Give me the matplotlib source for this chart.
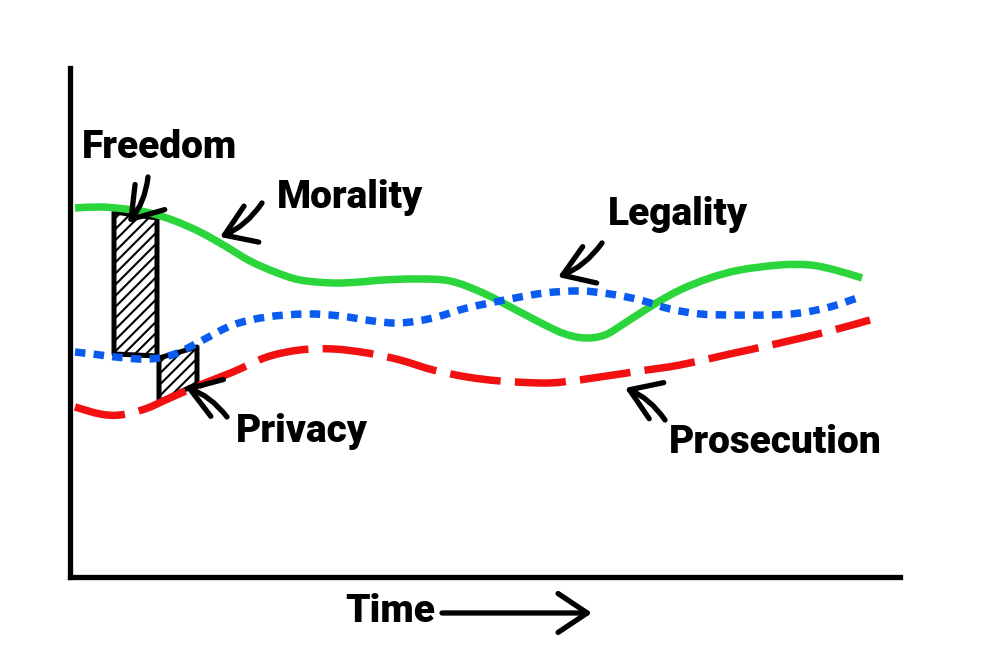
import matplotlib
matplotlib.use("Agg")
import matplotlib.pyplot as plt
from matplotlib.path import Path
from matplotlib.patches import PathPatch

plt.rcParams['font.family'] = ['Roboto', 'DejaVu Sans']
plt.rcParams['hatch.linewidth'] = 1.5

# curves (time, level)
morality_t = [5, 30, 55, 80, 105, 130, 155, 180, 205, 230, 263, 290, 313, 347, 380,
              413, 450, 475, 495, 515, 535, 555, 583, 610, 640, 670, 710, 740, 765, 792]
morality_v = [369, 370, 368, 364, 356, 345, 331, 316, 305, 297, 294, 295, 297, 298, 296,
              284, 265, 252, 243, 239, 242, 254, 272, 287, 299, 307, 312, 312, 307, 299]

legality_t = [5, 30, 55, 80, 105, 133, 163, 197, 237, 270, 303, 330, 363, 397, 440,
              475, 510, 540, 570, 600, 630, 660, 700, 730, 760, 790]
legality_v = [225, 222, 219, 218, 223, 237, 252, 260, 263, 261, 256, 254, 259, 269, 278,
              284, 286, 283, 277, 268, 263, 262, 262, 264, 270, 280]

prosecution_t = [5, 30, 50, 75, 100, 130, 163, 197, 230, 263, 297, 330, 363, 397, 430,
                 470, 493, 530, 570, 610, 660, 710, 760, 800]
prosecution_v = [170, 163, 162, 168, 179, 192, 205, 220, 227, 228, 224, 217, 207, 200, 196,
                 194, 195, 200, 206, 212, 223, 234, 246, 257]

# hatched gaps
freedom_t = [44, 87]
freedom_top = [365, 359]
freedom_bottom = [223, 221]
privacy_t = [89, 127]
privacy_top = [219, 230]
privacy_bottom = [175, 193]


def smooth(t, v):
    # catmull-rom through the points, as bezier segments
    pts = list(zip(t, v))
    verts = [pts[0]]
    codes = [Path.MOVETO]
    for i in range(len(pts) - 1):
        p0 = pts[i - 1] if i > 0 else pts[i]
        p1, p2 = pts[i], pts[i + 1]
        p3 = pts[i + 2] if i + 2 < len(pts) else pts[i + 1]
        c1 = (p1[0] + (p2[0] - p0[0]) / 6, p1[1] + (p2[1] - p0[1]) / 6)
        c2 = (p2[0] - (p3[0] - p1[0]) / 6, p2[1] - (p3[1] - p1[1]) / 6)
        verts += [c1, c2, p2]
        codes += [Path.CURVE4] * 3
    return Path(verts, codes)


fig = plt.figure(figsize=(10, 6.51), dpi=100)
ax = fig.add_axes([0.070, 0.1137, 0.830, 0.7819])
ax.set_xlim(0, 830)
ax.set_ylim(0, 509)
for s in ['top', 'right']:
    ax.spines[s].set_visible(False)
for s in ['left', 'bottom']:
    ax.spines[s].set_linewidth(3.8)
    ax.spines[s].set_capstyle('projecting')
ax.set_xticks([])
ax.set_yticks([])

ax.fill_between(freedom_t, freedom_bottom, freedom_top, facecolor='white',
                edgecolor='black', hatch='///', linewidth=3.6, zorder=2)
ax.fill_between(privacy_t, privacy_bottom, privacy_top, facecolor='white',
                edgecolor='black', hatch='///', linewidth=3.6, zorder=2)

ax.add_patch(PathPatch(smooth(morality_t, morality_v), fill=False,
                       edgecolor='#2bd63c', lw=5.4, capstyle='butt', zorder=3))
ax.add_patch(PathPatch(smooth(legality_t, legality_v), fill=False,
                       edgecolor='#0a5cf0', lw=5.4, linestyle=(0, (1.4, 1.1)), zorder=3))
ax.add_patch(PathPatch(smooth(prosecution_t, prosecution_v), fill=False,
                       edgecolor='#f21010', lw=5.4, linestyle=(0, (6.8, 1.9)), zorder=3))

arrow = dict(arrowstyle='->,head_length=0.75,head_width=0.5', lw=3.8,
             color='black', mutation_scale=28, shrinkA=0, shrinkB=0,
             capstyle='round', joinstyle='round')
fs = 28
fw = 'black'

ax.text(90, 429, 'Freedom', fontsize=fs, fontweight=fw, ha='center', va='center')
ax.annotate('', xy=(58, 354), xytext=(78, 400),
            arrowprops=dict(arrow, connectionstyle='arc3,rad=-0.15'))

ax.text(280, 379, 'Morality', fontsize=fs, fontweight=fw, ha='center', va='center')
ax.annotate('', xy=(150, 340), xytext=(192, 374),
            arrowprops=dict(arrow, connectionstyle='arc3,rad=-0.15'))

ax.text(608, 362, 'Legality', fontsize=fs, fontweight=fw, ha='center', va='center')
ax.annotate('', xy=(488, 300), xytext=(532, 334),
            arrowprops=dict(arrow, connectionstyle='arc3,rad=-0.15'))

ax.text(232, 145, 'Privacy', fontsize=fs, fontweight=fw, ha='center', va='center')
ax.annotate('', xy=(115, 190), xytext=(157, 160),
            arrowprops=dict(arrow, connectionstyle='arc3,rad=0.15'))

ax.text(705, 134, 'Prosecution', fontsize=fs, fontweight=fw, ha='center', va='center')
ax.annotate('', xy=(555, 189), xytext=(595, 157),
            arrowprops=dict(arrow, connectionstyle='arc3,rad=0.15'))

ax.text(320, -35, 'Time', fontsize=fs, fontweight=fw, ha='center', va='center',
        clip_on=False)
ax.annotate('', xy=(522, -36), xytext=(372, -36), annotation_clip=False,
            arrowprops=dict(arrow))

fig.savefig('out.png', dpi=100, facecolor='white')
